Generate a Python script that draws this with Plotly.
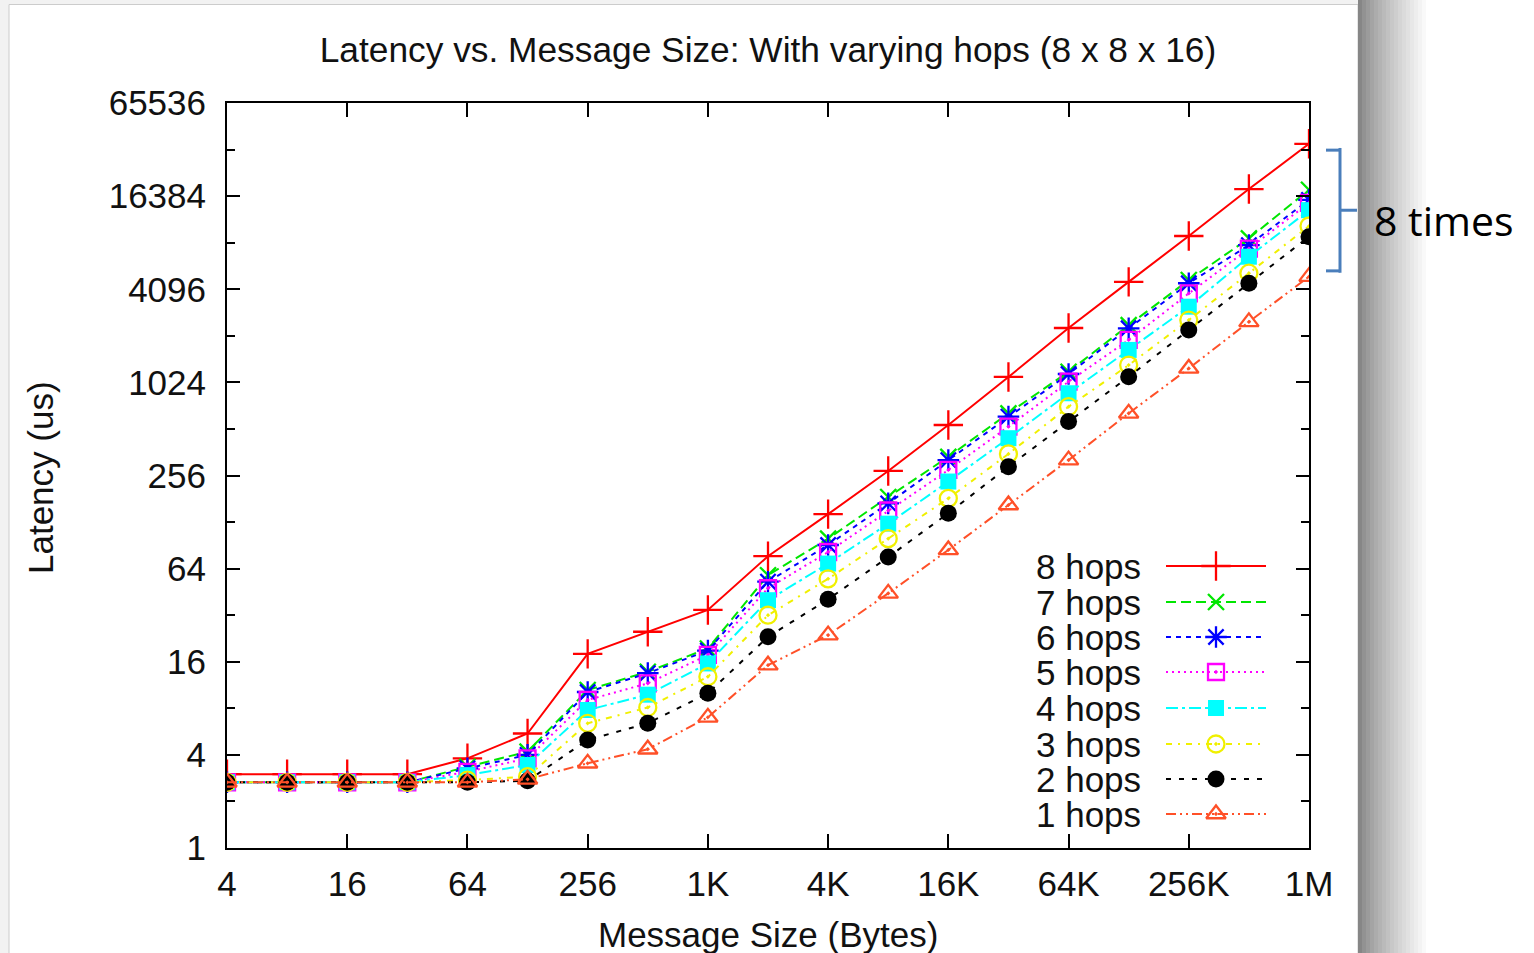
import plotly.graph_objects as go

# ---------------- data ----------------
SIZES = [4, 8, 16, 32, 64, 128, 256, 512, 1024, 2048, 4096, 8192, 16384,
         32768, 65536, 131072, 262144, 524288, 1048576]

X_TICK_VALS = [4, 16, 64, 256, 1024, 4096, 16384, 65536, 262144, 1048576]
X_TICK_TEXT = ["4", "16", "64", "256", "1K", "4K", "16K", "64K", "256K", "1M"]
Y_TICK_VALS = [1, 4, 16, 64, 256, 1024, 4096, 16384, 65536]
Y_TICK_TEXT = ["1", "4", "16", "64", "256", "1024", "4096", "16384", "65536"]
Y_MINOR_VALS = [2, 8, 32, 128, 512, 2048, 8192, 32768]

SERIES_NAMES = ["8 hops", "7 hops", "6 hops", "5 hops", "4 hops", "3 hops", "2 hops", "1 hops"]

hops8 = [3.0, 3.0, 3.0, 3.0, 3.8, 5.5, 18, 25, 34.6, 77, 144, 274, 543, 1110, 2300, 4570, 9050, 18200, 35700]
hops7 = [2.66, 2.66, 2.66, 2.66, 3.35, 4.2, 10.5, 13.8, 19.5, 58, 100, 186, 338, 646, 1200, 2400, 4700, 8730, 18000]
hops6 = [2.66, 2.66, 2.66, 2.66, 3.27, 4.0, 10.2, 13.5, 18.9, 52.7, 91, 169, 322, 615, 1160, 2290, 4480, 7900, 15500]
hops5 = [2.66, 2.66, 2.66, 2.66, 3.11, 3.8, 9.06, 11.6, 17.7, 47.8, 82, 152, 278, 530, 1035, 1925, 3850, 7500, 14800]
hops4 = [2.66, 2.66, 2.66, 2.66, 2.96, 3.44, 7.8, 9.8, 15.6, 40, 69, 125, 234, 446, 871, 1660, 3160, 6650, 13300]
hops3 = [2.66, 2.66, 2.66, 2.66, 2.75, 2.89, 6.4, 8.1, 12.8, 32, 55, 100, 182, 353, 713, 1325, 2590, 5200, 10500]
hops2 = [2.66, 2.66, 2.66, 2.66, 2.66, 2.72, 5.0, 6.4, 10.0, 23.2, 40.5, 76, 146, 292, 571, 1113, 2235, 4480, 8960]
hops1 = [2.66, 2.66, 2.66, 2.66, 2.66, 2.78, 3.53, 4.35, 7.0, 15.2, 23.8, 44.3, 84.5, 165, 322, 646, 1260, 2520, 4940]

SERIES_VALUES = [hops8, hops7, hops6, hops5, hops4, hops3, hops2, hops1]

# ---------------- styles ----------------
STYLES = [
    dict(color="#ff0000", dash="solid", symbol="cross-thin-open", size=21, filled=False),
    dict(color="#00e600", dash="10px,5px", symbol="x-thin-open", size=16, filled=False),
    dict(color="#0000ff", dash="5px,5px", symbol="asterisk-open", size=18, filled=False),
    dict(color="#ff00ff", dash="2px,4px", symbol="square-open-dot", size=16, filled=False),
    dict(color="#00ffff", dash="12px,4px,3px,4px", symbol="square", size=16, filled=True),
    dict(color="#f0f000", dash="6px,6px,2px,6px", symbol="circle-open-dot", size=17, filled=False),
    dict(color="#000000", dash="5px,8px", symbol="circle", size=17, filled=True),
    dict(color="#ff5028", dash="10px,4px,2px,4px,2px,4px", symbol="triangle-up-open-dot", size=17, filled=False),
]

FONT = "Liberation Sans, Arial, sans-serif"
FS = 35

# plot area in pixels
W, H = 1534, 953
L, R, T, B = 227, 1309, 103, 848

fig = go.Figure()

for name, vals, st in zip(SERIES_NAMES, SERIES_VALUES, STYLES):
    marker = dict(symbol=st["symbol"], size=st["size"], color=st["color"],
                  line=dict(color=st["color"], width=2.3 if not st["filled"] else 0))
    fig.add_trace(go.Scatter(
        x=SIZES, y=vals, name=name, mode="lines+markers",
        line=dict(color=st["color"], width=2, dash=st["dash"]),
        marker=marker, showlegend=False, xaxis="x", yaxis="y"))

# ------------- manual legend (text left, sample right) -------------
LEG_ROWS_PX = [566, 602, 637, 672, 708, 744, 779, 814]
LEG_LINE_X = [1166, 1266]
LEG_MARK_X = 1216
LEG_TEXT_X = 1143

for name, st, row in zip(SERIES_NAMES, STYLES, LEG_ROWS_PX):
    fig.add_trace(go.Scatter(
        x=LEG_LINE_X, y=[row, row], mode="lines",
        line=dict(color=st["color"], width=2, dash=st["dash"]),
        showlegend=False, hoverinfo="skip", xaxis="x2", yaxis="y2"))
    fig.add_trace(go.Scatter(
        x=[LEG_MARK_X], y=[row], mode="markers",
        marker=dict(symbol=st["symbol"], size=st["size"], color=st["color"],
                    line=dict(color=st["color"], width=2.3 if not st["filled"] else 0)),
        showlegend=False, hoverinfo="skip", xaxis="x2", yaxis="y2"))

annotations = []
for name, row in zip(SERIES_NAMES, LEG_ROWS_PX):
    annotations.append(dict(text=name, x=LEG_TEXT_X, y=row, xref="x2", yref="y2",
                            xanchor="right", yanchor="middle", showarrow=False,
                            font=dict(family=FONT, size=FS, color="#111")))

def px_to_paper_x(px):
    return (px - L) / (R - L)

def px_to_paper_y(py):
    return (B - py) / (B - T)

# axis titles
annotations.append(dict(text="Latency (us)", x=px_to_paper_x(40), y=px_to_paper_y(478),
                        xref="paper", yref="paper", textangle=-90, showarrow=False,
                        xanchor="center", yanchor="middle",
                        font=dict(family=FONT, size=FS, color="#111")))
annotations.append(dict(text="Message Size (Bytes)", x=px_to_paper_x(768), y=px_to_paper_y(935),
                        xref="paper", yref="paper", showarrow=False,
                        xanchor="center", yanchor="middle",
                        font=dict(family=FONT, size=FS, color="#111")))
# "8 times" callout
annotations.append(dict(text="8 times", x=px_to_paper_x(1372), y=px_to_paper_y(220),
                        xref="paper", yref="paper", showarrow=False,
                        xanchor="left", yanchor="middle",
                        font=dict(family="Open Sans, Noto Sans, sans-serif", size=41, color="#000")))

# ---------------- shapes: slide background ----------------
shapes = []
# light grey page margins at left / top
shapes.append(dict(type="rect", xref="paper", yref="paper", layer="below",
                   x0=px_to_paper_x(-10), x1=px_to_paper_x(9),
                   y0=px_to_paper_y(1000), y1=px_to_paper_y(-10),
                   fillcolor="#f2f2f2", line=dict(width=0)))
shapes.append(dict(type="rect", xref="paper", yref="paper", layer="below",
                   x0=px_to_paper_x(-10), x1=px_to_paper_x(1358),
                   y0=px_to_paper_y(4.5), y1=px_to_paper_y(-10),
                   fillcolor="#f2f2f2", line=dict(width=0)))
shapes.append(dict(type="rect", xref="paper", yref="paper", layer="below",
                   x0=px_to_paper_x(9), x1=px_to_paper_x(1358),
                   y0=px_to_paper_y(1000), y1=px_to_paper_y(4.5),
                   fillcolor="#ffffff", line=dict(color="#cccccc", width=1)))
# drop shadow to the right of the slide
n_strips = 18
for i in range(n_strips):
    t = i / (n_strips - 1)
    g = int(0x86 + (0xff - 0x86) * (t ** 0.8))
    shapes.append(dict(type="rect", xref="paper", yref="paper", layer="below",
                       x0=px_to_paper_x(1358 + i * 4), x1=px_to_paper_x(1358 + (i + 1) * 4),
                       y0=px_to_paper_y(1000), y1=px_to_paper_y(0),
                       fillcolor="rgb(%d,%d,%d)" % (g, g, g), line=dict(width=0)))

# bracket spanning 8-hop vs 1-hop latency at 1M
top_v = hops8[-1]
bot_v = hops1[-1]
mid_v = (top_v * bot_v) ** 0.5
BR = dict(color="#4a7ebb", width=3)
bx, bl, bp = px_to_paper_x(1340), px_to_paper_x(1326), px_to_paper_x(1357)
shapes += [
    dict(type="line", xref="paper", yref="y", x0=bx, x1=bx, y0=top_v * 0.94, y1=bot_v * 1.06, line=BR),
    dict(type="line", xref="paper", yref="y", x0=bl, x1=bx, y0=top_v * 0.91, y1=top_v * 0.91, line=BR),
    dict(type="line", xref="paper", yref="y", x0=bl, x1=bx, y0=bot_v * 1.09, y1=bot_v * 1.09, line=BR),
    dict(type="line", xref="paper", yref="y", x0=bx, x1=bp, y0=mid_v, y1=mid_v, line=BR),
]

fig.update_layout(
    width=W, height=H,
    margin=dict(l=L, r=W - R, t=T, b=H - B, autoexpand=False),
    paper_bgcolor="#ffffff",
    plot_bgcolor="#ffffff",
    title=dict(text="Latency vs. Message Size: With varying hops (8 x 8 x 16)",
               x=0.5, xref="paper", xanchor="center",
               y=1 - 50 / H, yref="container", yanchor="middle",
               font=dict(family=FONT, size=35.3, color="#111")),
    xaxis=dict(type="log", range=[0.60206, 6.0206], tickvals=X_TICK_VALS, ticktext=X_TICK_TEXT,
               ticks="inside", ticklen=14, tickwidth=1.5, tickcolor="#000",
               showline=True, linecolor="#000", linewidth=2, mirror="ticks",
               showgrid=False, zeroline=False,
               tickfont=dict(family=FONT, size=FS, color="#111"),
               ticklabelstandoff=4),
    yaxis=dict(type="log", range=[0, 4.81648], tickvals=Y_TICK_VALS, ticktext=Y_TICK_TEXT,
               ticks="inside", ticklen=13, tickwidth=1.5, tickcolor="#000",
               minor=dict(tickvals=Y_MINOR_VALS, ticks="inside", ticklen=8,
                          tickwidth=1.5, tickcolor="#000", showgrid=False),
               showline=True, linecolor="#000", linewidth=2, mirror="ticks",
               showgrid=False, zeroline=False,
               tickfont=dict(family=FONT, size=FS, color="#111"),
               ticklabelstandoff=12),
    xaxis2=dict(overlaying="x", range=[L, R], visible=False, fixedrange=True),
    yaxis2=dict(overlaying="y", range=[B, T], visible=False, fixedrange=True),
    annotations=annotations,
    shapes=shapes,
)

fig.write_html(
    "out.html",
    config={"displayModeBar": False},
    post_script="document.body.style.margin='0';document.body.style.overflow='hidden';",
)
